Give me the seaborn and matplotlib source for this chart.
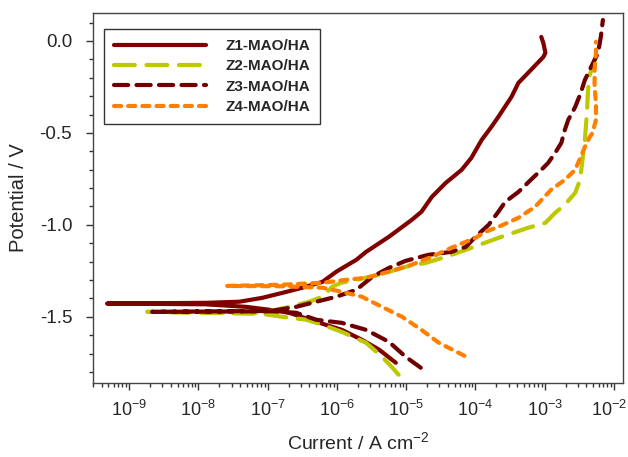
import numpy as np
import pandas as pd
import seaborn as sns
import matplotlib.pyplot as plt
from matplotlib.transforms import ScaledTranslation
from matplotlib.ticker import FixedLocator, LogLocator, MultipleLocator, FormatStrFormatter, NullFormatter

# polarization curves: log10 of current density (A cm-2) and potential (V)
# each path runs cathodic end -> corrosion tip -> anodic end
z1_logi = [-5.15, -5.39, -5.64, -5.93, -6.30, -6.69, -6.97, -7.31, -7.90, -9.32,
           -7.88, -7.41, -7.08, -6.79, -6.50, -6.21, -6.01, -5.72, -5.58, -5.25,
           -4.92, -4.78, -4.63, -4.43, -4.20, -4.06, -3.91, -3.77, -3.67, -3.48,
           -3.38, -3.20, -3.02, -2.99, -3.02, -3.05]
z1_e = [-1.750, -1.679, -1.625, -1.571, -1.527, -1.478, -1.462, -1.446, -1.432, -1.428,
        -1.424, -1.418, -1.397, -1.370, -1.342, -1.310, -1.255, -1.190, -1.147, -1.065,
        -0.973, -0.929, -0.848, -0.772, -0.701, -0.636, -0.538, -0.467, -0.413, -0.304,
        -0.228, -0.158, -0.087, -0.065, -0.011, 0.022]

z2_logi = [-5.11, -5.21, -5.35, -5.58, -5.93, -6.21, -6.44, -6.79, -7.08, -8.74,
           -7.08, -6.69, -6.40, -6.21, -6.07, -5.94, -5.72, -5.39, -5.01, -4.72,
           -4.43, -4.06, -3.67, -3.24, -2.99, -2.85, -2.71, -2.56, -2.49, -2.46,
           -2.42, -2.39, -2.38, -2.36, -2.31, -2.23]
z2_e = [-1.815, -1.772, -1.717, -1.641, -1.582, -1.543, -1.516, -1.500, -1.484, -1.473,
        -1.478, -1.446, -1.418, -1.391, -1.337, -1.315, -1.299, -1.272, -1.228, -1.207,
        -1.174, -1.125, -1.071, -1.016, -0.989, -0.935, -0.891, -0.826, -0.755, -0.663,
        -0.538, -0.391, -0.304, -0.196, -0.141, -0.049]

z3_logi = [-4.79, -5.01, -5.25, -5.58, -5.93, -6.30, -6.59, -6.95, -8.67,
           -6.95, -6.59, -6.30, -6.01, -5.72, -5.49, -5.25, -5.01, -4.68, -4.35,
           -4.14, -4.00, -3.81, -3.67, -3.57, -3.38, -3.20, -3.05, -2.95, -2.85,
           -2.76, -2.71, -2.66, -2.56, -2.48, -2.42, -2.33, -2.23, -2.19, -2.16]
z3_e = [-1.777, -1.717, -1.636, -1.571, -1.533, -1.516, -1.478, -1.470, -1.473,
        -1.468, -1.446, -1.418, -1.391, -1.353, -1.283, -1.234, -1.196, -1.163, -1.147,
        -1.120, -1.065, -1.000, -0.929, -0.875, -0.821, -0.755, -0.701, -0.663, -0.609,
        -0.554, -0.484, -0.429, -0.359, -0.283, -0.212, -0.141, -0.065, 0.022, 0.114]

z4_logi = [-4.16, -4.53, -4.78, -5.06, -5.35, -5.64, -5.93, -6.21, -6.80, -7.59,
           -6.83, -6.21, -5.87, -5.58, -5.25, -4.92, -4.63, -4.35, -4.00, -3.86,
           -3.67, -3.38, -3.14, -2.91, -2.71, -2.56, -2.48, -2.42, -2.35, -2.31,
           -2.26, -2.26, -2.28, -2.28, -2.26, -2.26]
z4_e = [-1.712, -1.641, -1.571, -1.500, -1.446, -1.391, -1.364, -1.342, -1.334, -1.332,
        -1.326, -1.315, -1.299, -1.288, -1.255, -1.217, -1.174, -1.125, -1.071, -1.038,
        -1.011, -0.962, -0.902, -0.810, -0.755, -0.701, -0.630, -0.576, -0.522, -0.500,
        -0.429, -0.337, -0.250, -0.158, -0.065, -0.005]

labels = ['Z1-MAO/HA', 'Z2-MAO/HA', 'Z3-MAO/HA', 'Z4-MAO/HA']
colors = ['#800000', '#bcc800', '#6e0000', '#ff8000']
dash_styles = [None, (5.0, 2.8), (3.4, 2.0), (1.7, 1.7)]
x_decades = [-9, -8, -7, -6, -5, -4, -3, -2]

sns.set_theme(style='ticks')
plt.rcParams['font.family'] = ['Liberation Sans', 'DejaVu Sans']
plt.rcParams['mathtext.default'] = 'regular'
plt.rcParams['axes.unicode_minus'] = False

fig = plt.figure(figsize=(6.28, 4.57), dpi=100)
ax = fig.add_axes([93 / 628, 1 - 383 / 457, 530 / 628, 370 / 457])

series = [(z1_logi, z1_e), (z2_logi, z2_e), (z3_logi, z3_e), (z4_logi, z4_e)]
for (logi, e), lab, col, ds in zip(series, labels, colors, dash_styles):
    df = pd.DataFrame({'i': 10.0 ** np.array(logi), 'E': e})
    kws = dict(solid_capstyle='round', solid_joinstyle='round', dash_capstyle='round')
    if ds is not None:
        kws['linestyle'] = (0, ds)
    sns.lineplot(data=df, x='i', y='E', sort=False, estimator=None, color=col,
                 lw=3.0, label=lab, ax=ax, **kws)

ax.set_xscale('log')
ax.set_xlim(3.0e-10, 1.35e-2)
ax.set_ylim(-1.86, 0.152)

ax.xaxis.set_major_locator(FixedLocator([10.0 ** d for d in x_decades]))
ax.xaxis.set_major_formatter(plt.FuncFormatter(lambda v, p: '10$^{%d}$' % round(np.log10(v))))
ax.xaxis.set_minor_locator(LogLocator(base=10, subs=np.arange(2, 10), numticks=20))
ax.xaxis.set_minor_formatter(NullFormatter())
ax.yaxis.set_major_locator(MultipleLocator(0.5))
ax.yaxis.set_minor_locator(MultipleLocator(0.1))
ax.yaxis.set_major_formatter(FormatStrFormatter('%.1f'))

ax.tick_params(which='both', direction='out', top=False, right=False, color='#333333', width=1)
ax.tick_params(which='major', length=5, labelsize=13)
ax.tick_params(axis='y', which='major', pad=10, labelsize=13.5)
ax.tick_params(axis='x', which='major', pad=7)
ax.tick_params(which='minor', length=3)
for sp in ax.spines.values():
    sp.set_color('#444444')
    sp.set_linewidth(1)

ax.set_xlabel('Current / A cm$^{-2}$', fontsize=14, labelpad=8)
ax.set_ylabel('Potential / V', fontsize=14.5, labelpad=8)

leg = ax.legend(loc='upper left', bbox_to_anchor=(11 / 530, 1 - 16 / 370), borderaxespad=0,
                frameon=True, fancybox=False, framealpha=1, edgecolor='#333333',
                prop={'weight': 'bold', 'size': 11}, handlelength=6.0,
                handletextpad=1.3, labelspacing=0.42, borderpad=0.65)
leg.get_frame().set_linewidth(1)

# nudge the last decade label in so it stays inside the figure
last = ax.xaxis.get_major_ticks()[-1].label1
last.set_transform(last.get_transform() + ScaledTranslation(-5 / 100, 0, fig.dpi_scale_trans))

fig.savefig('out.png', dpi=100)
